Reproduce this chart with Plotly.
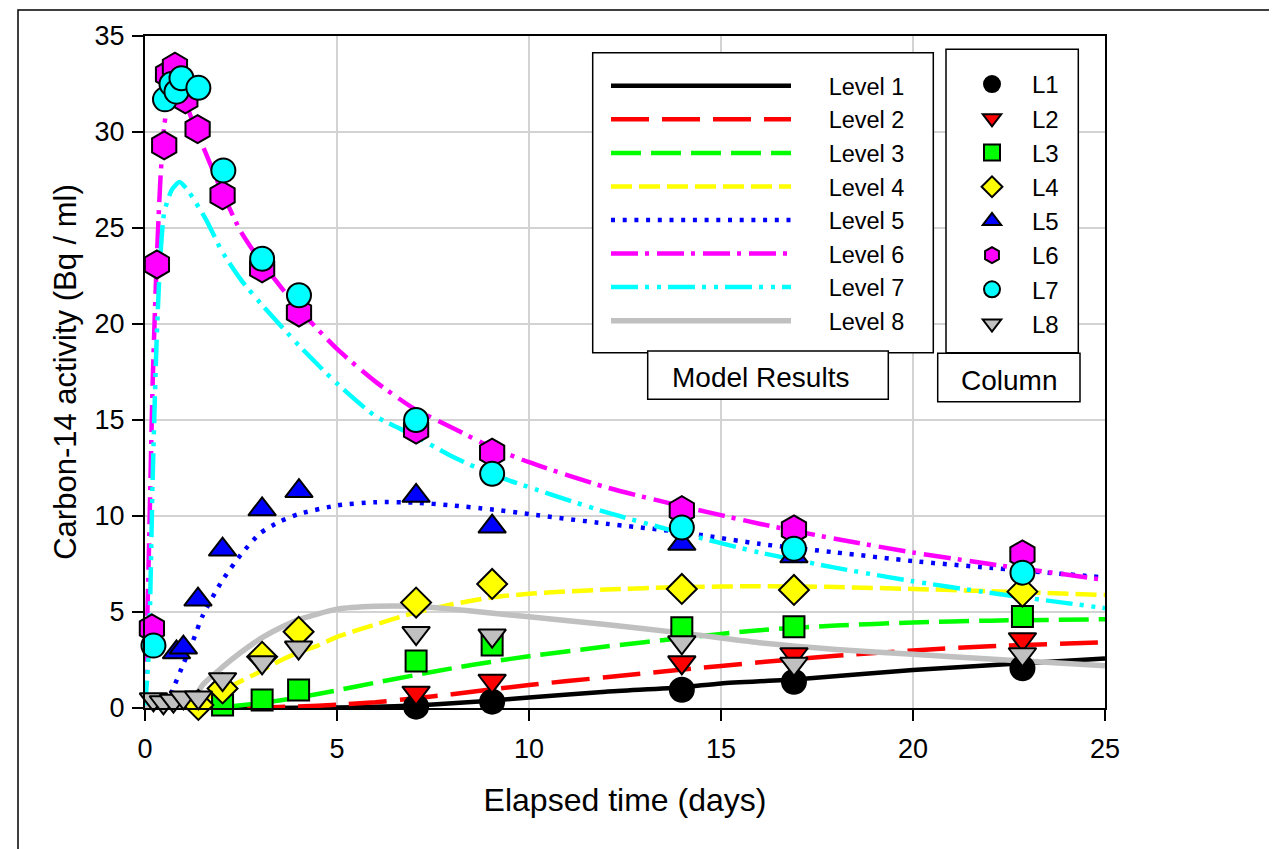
import plotly.graph_objects as go

# ---------------- model results (lines) ----------------
m1_t = [0, 3, 5, 6, 7, 8, 9, 10, 12, 14, 15, 17, 20, 23, 25]
m1_y = [0, 0, 0.02, 0.06, 0.13, 0.25, 0.38, 0.55, 0.85, 1.08, 1.28, 1.5, 1.98, 2.35, 2.58]

m2_t = [0, 2, 3, 4, 5, 6, 7, 8, 10, 12, 14, 16, 18, 20, 22, 25]
m2_y = [0, 0.01, 0.03, 0.08, 0.17, 0.3, 0.5, 0.72, 1.2, 1.6, 2.0, 2.38, 2.72, 3.0, 3.22, 3.42]

m3_t = [0, 1, 2, 3, 4, 5, 6, 7, 8, 9, 10, 12, 14, 16, 18, 20, 22, 25]
m3_y = [0, 0, 0.05, 0.25, 0.55, 0.92, 1.32, 1.7, 2.07, 2.4, 2.7, 3.2, 3.65, 4.05, 4.3, 4.45, 4.55, 4.62]

m4_t = [0, 1, 1.5, 2, 2.5, 3, 3.5, 4, 4.5, 5, 6, 7, 8, 9, 10, 12, 14, 16, 18, 20, 22, 25]
m4_y = [0, 0.05, 0.4, 0.9, 1.4, 1.9, 2.45, 2.9, 3.25, 3.7, 4.35, 4.95, 5.4, 5.75, 5.95, 6.17, 6.3, 6.34, 6.3, 6.2, 6.08, 5.89]

m5_t = [0, 0.5, 0.75, 1, 1.25, 1.5, 2, 2.5, 3, 3.5, 4, 5, 6, 7, 8, 9, 10, 12, 14, 16, 18, 20, 22, 25]
m5_y = [0, 0, 1.1, 2.3, 3.5, 4.8, 6.6, 8.0, 9.1, 9.7, 10.1, 10.55, 10.72, 10.7, 10.55, 10.35, 10.1, 9.6, 9.15, 8.55, 8.1, 7.65, 7.3, 6.8]

m6_t = [0, 0.1, 0.2, 0.3, 0.4, 0.5, 0.6, 0.8, 1, 1.25, 1.5, 2, 2.5, 3, 4, 5, 6, 7, 8, 9, 10, 12, 14, 16, 18, 20, 22, 25]
m6_y = [0, 8, 17, 23, 27.5, 30.3, 31.5, 32.3, 31.8, 30.5, 29.3, 26.9, 24.8, 23.3, 20.8, 18.7, 17.0, 15.6, 14.6, 13.6, 12.8, 11.5, 10.5, 9.6, 8.8, 8.1, 7.5, 6.67]

m7_t = [0, 0.1, 0.2, 0.3, 0.4, 0.5, 0.7, 0.9, 1.1, 1.3, 1.6, 2, 2.5, 3, 4, 5, 6, 7, 8, 9, 10, 12, 14, 16, 18, 20, 22, 25]
m7_y = [0, 3, 12, 19, 23.5, 25.8, 27.0, 27.4, 27.0, 26.4, 25.4, 23.8, 22.3, 21.1, 18.9, 16.9, 15.2, 14.2, 13.1, 12.2, 11.5, 10.2, 9.1, 8.1, 7.3, 6.6, 6.0, 5.2]

m8_t = [0, 1, 1.25, 1.5, 2, 2.5, 3, 3.5, 4, 5, 6, 7, 8, 9, 10, 12, 14, 16, 18, 20, 22, 25]
m8_y = [0, 0, 0.4, 1.2, 2.1, 2.9, 3.6, 4.15, 4.6, 5.15, 5.3, 5.3, 5.15, 4.95, 4.75, 4.35, 3.9, 3.4, 3.05, 2.8, 2.55, 2.2]

# ---------------- column measurements (markers) ----------------
c1_t = [7.06, 9.04, 13.98, 16.9, 22.85]
c1_y = [0.07, 0.33, 0.95, 1.37, 2.07]
c2_t = [7.06, 9.04, 13.98, 16.9, 22.85]
c2_y = [0.8, 1.42, 2.38, 2.8, 3.58]
c3_t = [2.02, 3.05, 4.0, 7.06, 9.04, 13.98, 16.9, 22.85]
c3_y = [0.16, 0.42, 0.94, 2.45, 3.28, 4.18, 4.23, 4.76]
c4_t = [1.39, 2.02, 3.05, 4.0, 7.06, 9.04, 13.98, 16.9, 22.85]
c4_y = [0.16, 1.02, 2.67, 3.97, 5.49, 6.46, 6.2, 6.15, 6.06]
c5_t = [0.82, 1.0, 1.38, 2.02, 3.05, 4.01, 7.06, 9.04, 13.98, 16.9]
c5_y = [2.9, 3.15, 5.65, 8.25, 10.35, 11.3, 11.05, 9.45, 8.55, 7.9]
c6_t = [0.18, 0.31, 0.5, 0.6, 0.78, 1.05, 1.37, 2.02, 3.05, 4.01, 7.06, 9.04, 13.98, 16.9, 22.85]
c6_y = [4.15, 23.1, 29.3, 33.0, 33.4, 31.7, 30.15, 26.7, 22.9, 20.6, 14.5, 13.3, 10.3, 9.3, 8.0]
c7_t = [0.22, 0.52, 0.69, 0.82, 0.95, 1.39, 2.04, 3.05, 4.01, 7.06, 9.04, 13.98, 16.9, 22.85]
c7_y = [3.25, 31.7, 32.5, 32.1, 32.8, 32.3, 28.0, 23.4, 21.5, 15.0, 12.2, 9.4, 8.3, 7.05]
c8_t = [0.22, 0.48, 0.74, 1.0, 1.39, 2.02, 3.05, 4.0, 7.06, 9.04, 13.98, 16.9, 22.85]
c8_y = [0.45, 0.3, 0.38, 0.55, 0.55, 1.5, 2.38, 3.15, 3.9, 3.77, 3.42, 2.3, 2.8]

level_names = ["Level 1", "Level 2", "Level 3", "Level 4", "Level 5", "Level 6", "Level 7", "Level 8"]
column_names = ["L1", "L2", "L3", "L4", "L5", "L6", "L7", "L8"]
x_ticks = [0, 5, 10, 15, 20, 25]
y_ticks = [0, 5, 10, 15, 20, 25, 30, 35]

colors = ["#000000", "#FF0000", "#00FF00", "#FFFF00", "#0000FF", "#FF00FF", "#00FFFF", "#C0C0C0"]
dashes = ["solid", "38px,13px", "30px,10px", "21px,7px", "4px,7.7px",
          "27px,7px,4px,8px", "27px,7px,4px,8px,4px,7px", "solid"]
widths = [4.5, 4.5, 4.5, 4.5, 4.5, 4.5, 4.5, 5.5]
symbols = ["circle", "triangle-down", "square", "diamond", "triangle-up", "hexagon", "circle", "triangle-down"]
msizes = [24, 24, 21, 23, 24, 28, 24, 24]

model_t = [m1_t, m2_t, m3_t, m4_t, m5_t, m6_t, m7_t, m8_t]
model_y = [m1_y, m2_y, m3_y, m4_y, m5_y, m6_y, m7_y, m8_y]
col_t = [c1_t, c2_t, c3_t, c4_t, c5_t, c6_t, c7_t, c8_t]
col_y = [c1_y, c2_y, c3_y, c4_y, c5_y, c6_y, c7_y, c8_y]

FONT = "Liberation Sans, Arial, sans-serif"
NB = "\u00a0"

fig = go.Figure()
for i in range(8):
    fig.add_trace(go.Scatter(
        x=model_t[i], y=model_y[i], mode="lines", name=NB * 5 + level_names[i],
        line=dict(color=colors[i], width=widths[i], dash=dashes[i], shape="spline", smoothing=0.6),
        legend="legend"))
for i in range(8):
    fig.add_trace(go.Scatter(
        x=col_t[i], y=col_y[i], mode="markers", name=NB * 3 + column_names[i],
        marker=dict(symbol=symbols[i], size=msizes[i], color=colors[i],
                    line=dict(color="#000000", width=2)),
        legend="legend2", cliponaxis=False))

# plot area in the reference page: x 145..1105, y 36..708 (page has an 8px body offset)
def px(xp):
    return (xp - 145) / 960.0

def py(yp):
    return (708 - yp) / 672.0

shapes = [
    # outer frame
    dict(type="rect", xref="paper", yref="paper", x0=px(18), x1=px(1276), y0=py(900), y1=py(10),
         line=dict(color="#000000", width=1.5), fillcolor="rgba(0,0,0,0)", layer="below"),
    # legend boxes
    dict(type="rect", xref="paper", yref="paper", x0=px(592.7), x1=px(933.3), y0=py(352.7), y1=py(52.7),
         line=dict(color="#000000", width=1.5), fillcolor="#FFFFFF", layer="above"),
    dict(type="rect", xref="paper", yref="paper", x0=px(946), x1=px(1078.3), y0=py(352.7), y1=py(49.3),
         line=dict(color="#000000", width=1.5), fillcolor="#FFFFFF", layer="above"),
    dict(type="rect", xref="paper", yref="paper", x0=px(647.7), x1=px(888.3), y0=py(399.3), y1=py(351),
         line=dict(color="#000000", width=1.5), fillcolor="#FFFFFF", layer="above"),
    dict(type="rect", xref="paper", yref="paper", x0=px(937.7), x1=px(1080), y0=py(401.7), y1=py(353.3),
         line=dict(color="#000000", width=1.5), fillcolor="#FFFFFF", layer="above"),
]

annotations = [
    dict(text="Model Results", xref="paper", yref="paper", x=px(760.8), y=py(377), showarrow=False,
         xanchor="center", yanchor="middle", font=dict(family=FONT, size=28, color="#000000")),
    dict(text="Column", xref="paper", yref="paper", x=px(1008.8), y=py(380), showarrow=False,
         xanchor="center", yanchor="middle", font=dict(family=FONT, size=28, color="#000000")),
]

fig.update_layout(
    width=1269, height=841,
    margin=dict(l=137, r=172, t=28, b=141, autoexpand=False),
    paper_bgcolor="#FFFFFF", plot_bgcolor="#FFFFFF",
    font=dict(family=FONT, color="#000000"),
    showlegend=True,
    shapes=shapes, annotations=annotations,
    legend=dict(x=px(606), y=py(64), xanchor="left", yanchor="top",
                bgcolor="rgba(0,0,0,0)", borderwidth=0, itemwidth=180,
                font=dict(family=FONT, size=23.5, color="#000000"),
                traceorder="normal", itemclick=False, itemdoubleclick=False),
    legend2=dict(x=px(972), y=py(62), xanchor="left", yanchor="top",
                 bgcolor="rgba(0,0,0,0)", borderwidth=0, itemwidth=30,
                 font=dict(family=FONT, size=24, color="#000000"),
                 traceorder="normal", itemclick=False, itemdoubleclick=False),
    xaxis=dict(range=[0, 25], tickmode="array", tickvals=x_ticks, ticktext=[str(v) for v in x_ticks],
               showgrid=True, gridcolor="#D3D3D3", gridwidth=1.5, zeroline=False,
               showline=True, linecolor="#000000", linewidth=2, mirror=True,
               ticks="outside", ticklen=11, tickwidth=1.5, tickcolor="#000000",
               tickfont=dict(family=FONT, size=27), ticklabelstandoff=5,
               title=dict(text="Elapsed time (days)", font=dict(family=FONT, size=32), standoff=25)),
    yaxis=dict(range=[0, 35], tickmode="array", tickvals=y_ticks, ticktext=[str(v) for v in y_ticks],
               showgrid=True, gridcolor="#D3D3D3", gridwidth=1.5, zeroline=False,
               showline=True, linecolor="#000000", linewidth=2, mirror=True,
               ticks="outside", ticklen=11, tickwidth=1.5, tickcolor="#000000",
               tickfont=dict(family=FONT, size=27), ticklabelstandoff=2,
               title=dict(text="Carbon-14 activity (Bq / ml)", font=dict(family=FONT, size=31), standoff=9)),
)

fig.write_html("out.html")
